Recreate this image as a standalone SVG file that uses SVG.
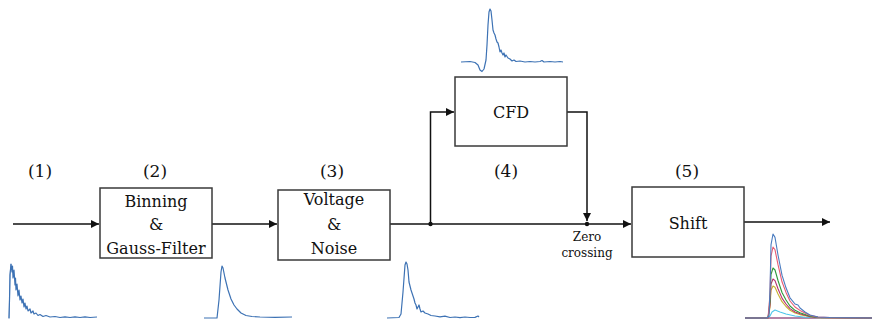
<svg xmlns="http://www.w3.org/2000/svg" width="872" height="320" viewBox="0 0 872 320">
<style>
.box{fill:#fff;stroke:#3a3a3a;stroke-width:1.5}
.lbl{font-family:"DejaVu Serif","Liberation Serif",serif;font-size:16px;fill:#111;text-anchor:middle}
.num{font-family:"DejaVu Serif","Liberation Serif",serif;font-size:17px;fill:#111;text-anchor:middle}
.sm{font-family:"DejaVu Serif","Liberation Serif",serif;font-size:12px;fill:#111;text-anchor:middle}
.wire{fill:none;stroke:#111;stroke-width:1.5}
.wave{fill:none;stroke:#3d72b4;stroke-width:1.2;stroke-linejoin:round}
.mw{fill:none;stroke-width:1.1;stroke-linejoin:round}
</style>
<defs>
<marker id="arr" viewBox="0 0 10 10" refX="10" refY="5" markerWidth="8" markerHeight="8" markerUnits="userSpaceOnUse" orient="auto">
<path d="M0,0 L10,5 L0,10 Z" fill="#111"/>
</marker>
</defs>
<rect width="872" height="320" fill="#fff"/>

<g id="labels">
<text class="num" x="40" y="177">(1)</text>
<text class="num" x="155" y="177">(2)</text>
<text class="num" x="332" y="177">(3)</text>
<text class="num" x="506" y="177">(4)</text>
<text class="num" x="687" y="177">(5)</text>
</g>

<g id="connectors">
<line class="wire" x1="13" y1="224" x2="99" y2="224" marker-end="url(#arr)"/>
<line class="wire" x1="212" y1="224" x2="277" y2="224" marker-end="url(#arr)"/>
<line class="wire" x1="390" y1="224" x2="631" y2="224" marker-end="url(#arr)"/>
<path class="wire" d="M430.5,224 V112 H454" marker-end="url(#arr)"/>
<path class="wire" d="M567,112 H587 V221" marker-end="url(#arr)"/>
<line class="wire" x1="744" y1="222" x2="830" y2="222" marker-end="url(#arr)"/>
<circle cx="430.5" cy="224" r="2.2" fill="#111"/>
<circle cx="587" cy="224" r="2.2" fill="#111"/>
</g>

<g id="node-binning">
<rect class="box" x="100" y="188" width="112" height="70"/>
<text class="lbl" x="156" y="207">Binning</text>
<text class="lbl" x="156" y="230">&amp;</text>
<text class="lbl" x="156" y="254">Gauss-Filter</text>
</g>

<g id="node-voltage">
<rect class="box" x="278" y="190" width="112" height="70"/>
<text class="lbl" x="334" y="205">Voltage</text>
<text class="lbl" x="334" y="230">&amp;</text>
<text class="lbl" x="334" y="254">Noise</text>
</g>

<g id="node-cfd">
<rect class="box" x="455" y="77" width="112" height="69"/>
<text class="lbl" x="511" y="118">CFD</text>
</g>

<g id="node-shift">
<rect class="box" x="632" y="187" width="112" height="70"/>
<text class="lbl" x="688" y="229">Shift</text>
</g>

<g id="zero-crossing">
<text class="sm" x="587" y="241">Zero</text>
<text class="sm" x="587" y="257">crossing</text>
</g>

<g id="waveforms">
<path d="M9,319 L9.5,300 L10,275 L11,264" fill="none" stroke="#8aa8d0" stroke-width="1"/>
<path class="wave" stroke-width="1.8" d="M9,318 L9.5,300 L10,275 L11,264 L12,272 L12.5,266 L13,278 L14,270 L15,285 L15.5,278 L16,290 L17,284 L18,296 L19,290 L20,300 L21,296 L22,303 L23,299 L24,307 L25,303 L26,309 L27,306 L28,311 L30,309 L31,313 L33,311 L34,314 L36,313 L38,315.5 L40,314.5 L43,316.5 L46,315.5 L50,317 L55,316.5 L60,317.5 L65,316.8 L70,317.5 L75,316.8 L80,317.5 L85,316.8 L90,317.5 L97,317"/>
<path class="wave" d="M204,318 L217,318 L219,300 L221,272 L222,266 L223,268 L225,278 L228,290 L231,299 L234,305 L237,309 L241,313 L246,315.5 L252,316.5 L260,317 L275,317.3 L292,317"/>
<path class="wave" d="M387,318 L399,317.5 L401,314 L403,292 L405,265 L406,262 L407,264 L408,270 L409,282 L410,286 L411,290 L412,293 L413,296 L414,299 L415,303 L416,305 L417,309 L418,307 L419,305 L420,309 L421,312 L423,311 L425,313 L428,314 L431,315.5 L435,316 L440,316.8 L445,316.2 L450,317.5 L455,317 L460,317.6 L465,317 L470,317.5 L475,317.4 L478,316 L479,317"/>
<path class="wave" d="M461,62 L470,61.5 L475,62.5 L478,65 L480,70 L482,71.5 L484,69 L486,60 L487,45 L488,25 L489,12 L490,9 L491,11 L492,20 L493,30 L494,33 L495,35 L496,39 L497,42 L498,43 L499,47 L500,52 L501,50 L502,53 L503,55 L504,53 L505,57 L506,55 L508,58 L510,59 L512,61 L514,60 L516,61.5 L520,61 L525,62 L530,61.5 L535,62 L540,61.5 L542,60.5 L544,62 L550,61.5 L555,62 L560,61.5 L563,62"/>
</g>

<g id="shift-waveforms">
<line x1="745" y1="318" x2="872" y2="318" stroke="#9a5a8a" stroke-width="1.3"/>
<path class="mw" stroke="#4fc6ea" d="M745,318 L767,318 L770,316 L772,312 L775,310 L780,312 L786,314 L795,316 L805,317.2 L820,317.8 L872,318"/>
<path class="mw" stroke="#c8b030" d="M745,318 L768,318 L770,307.4 L771,290.2 L773,286 L775,287.3 L778,294 L782,301.7 L786,306.5 L790,310.3 L795,313 L800,314.6 L805,315.7 L810,316.8 L818,317.6 L872,318"/>
<path class="mw" stroke="#b5306e" d="M745,318 L768,318 L770,305.1 L771,284.1 L773,279 L775,280.6 L778,288.8 L782,298.1 L786,304 L790,308.6 L795,312 L800,313.8 L805,315.2 L810,316.6 L818,317.5 L872,318"/>
<path class="mw" stroke="#2e9a3c" d="M745,318 L768,318 L770,301.5 L771,274.5 L773,268 L775,270 L778,280.5 L782,292.5 L786,300 L790,306 L795,310.3 L800,312.7 L805,314.5 L810,316.2 L818,317.4 L872,318"/>
<path class="mw" stroke="#e85a72" d="M745,318 L768,318 L770,294.6 L771,256.2 L773,247 L775,249.8 L778,264.7 L782,281.8 L786,292.4 L790,301 L795,307 L800,310.4 L805,313 L810,315.4 L818,317.1 L830,317.6 L872,318"/>
<path class="mw" stroke="#4a7cc0" d="M745,318 L767,318 L769,316 L770,290.3 L771,244.9 L773,234 L775,237.4 L778,255 L782,275.2 L786,287.8 L790,297.8 L795,304 L798,305 L800,308 L805,312 L810,315 L818,317 L830,317.5 L872,318"/>
</g>
</svg>
